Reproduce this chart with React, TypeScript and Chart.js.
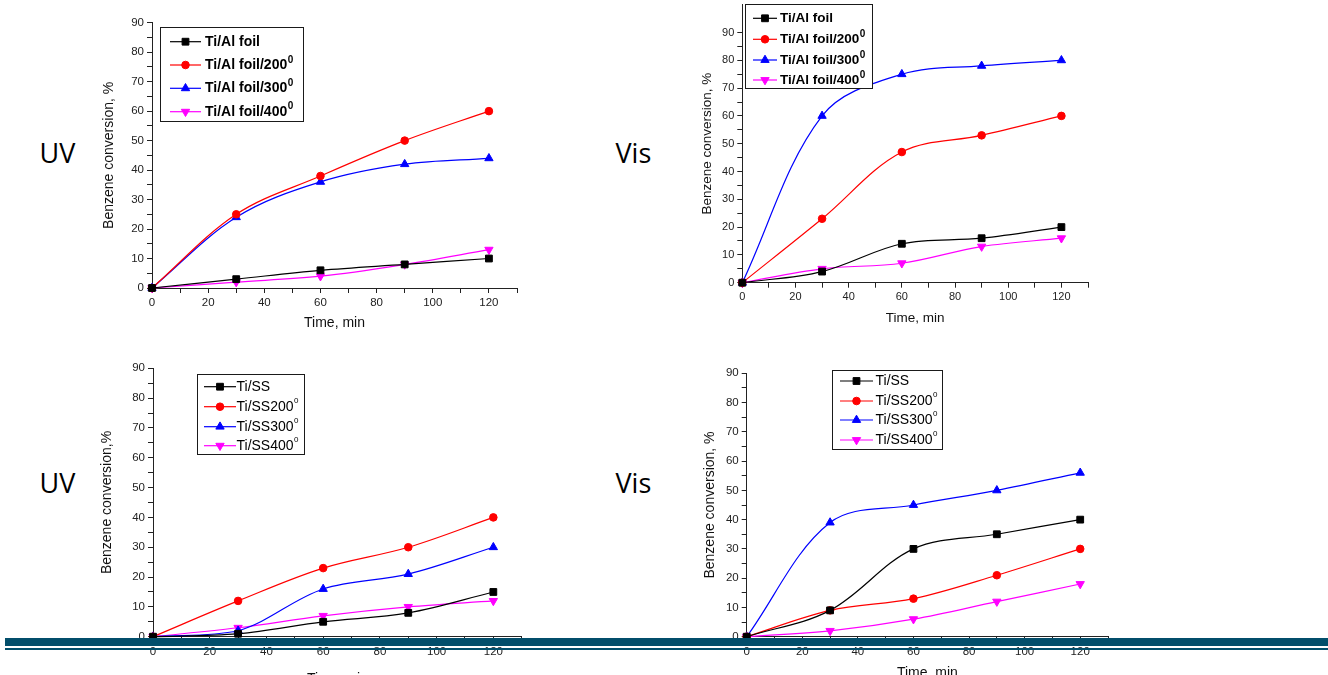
import React, { useEffect, useRef } from 'react';
import { Chart, registerables } from 'chart.js';
Chart.register(...registerables);

// ---------- data ----------
const times = [0, 30, 60, 90, 120];

const alLabels = ['Ti/Al foil', 'Ti/Al foil/200', 'Ti/Al foil/300', 'Ti/Al foil/400'];
const ssLabels = ['Ti/SS', 'Ti/SS200', 'Ti/SS300', 'Ti/SS400'];
const labelSups = ['', '0', '0', '0'];

// UV, Ti/Al foil
const uvAlFoil = [0, 3, 6, 8, 10];
const uvAl200 = [0, 25, 38, 50, 60];
const uvAl300 = [0, 24, 36, 42, 44];
const uvAl400 = [0, 2, 4, 8, 13];
// Vis, Ti/Al foil
const visAlFoil = [0, 4, 14, 16, 20];
const visAl200 = [0, 23, 47, 53, 60];
const visAl300 = [0, 60, 75, 78, 80];
const visAl400 = [0, 5, 7, 13, 16];
// UV, Ti/SS
const uvSS = [0, 1, 5, 8, 15];
const uvSS200 = [0, 12, 23, 30, 40];
const uvSS300 = [0, 2, 16, 21, 30];
const uvSS400 = [0, 3, 7, 10, 12];
// Vis, Ti/SS
const visSS = [0, 9, 30, 35, 40];
const visSS200 = [0, 9, 13, 21, 30];
const visSS300 = [0, 39, 45, 50, 56];
const visSS400 = [0, 2, 6, 12, 18];

const xTickLabels = [0, 20, 40, 60, 80, 100, 120];
const yTickLabels = [0, 10, 20, 30, 40, 50, 60, 70, 80, 90];

const xTitle = 'Time, min';
const yTitleSpace = 'Benzene conversion, %';
const yTitleNoSpace = 'Benzene conversion,%';

// ---------- styles ----------
const seriesColors = ['#000000', '#ff0000', '#0000ff', '#ff00ff'];
const seriesShapes = ['rect', 'circle', 'triangle', 'triangle'];
const seriesRotation = [0, 0, 0, 180];
const seriesRadius = [4.8, 3.8, 4.8, 4.8];
const FONT = '"Liberation Sans", Arial, sans-serif';
const AXIS = '#222222';

type Legend = {
  box: number[]; rows: number[]; sx: number[]; tx: number;
  size: number; bold: boolean; supSize: number; supRaise: number;
};
type Spec = {
  series: number[][]; labels: string[]; yTitle: string; yMax: number;
  area: { l: number; t: number; r: number; b: number };
  yTitleX: number; xTitleY: number; titleSize: number; tickSize: number;
  legend: Legend;
};

const specs: Spec[] = [
  {
    series: [uvAlFoil, uvAl200, uvAl300, uvAl400], labels: alLabels, yTitle: yTitleSpace, yMax: 90,
    area: { l: 152, t: 22.7, r: 517, b: 288 }, yTitleX: 109, xTitleY: 323, titleSize: 14, tickSize: 11.5,
    legend: { box: [160, 27, 143, 94], rows: [41.7, 65, 88.3, 111.7], sx: [170, 201], tx: 205, size: 14, bold: true, supSize: 10, supRaise: 5 },
  },
  {
    series: [visAlFoil, visAl200, visAl300, visAl400], labels: alLabels, yTitle: yTitleSpace, yMax: 100,
    area: { l: 742.3, t: 4.7, r: 1088, b: 282.7 }, yTitleX: 707.7, xTitleY: 318, titleSize: 13.5, tickSize: 11,
    legend: { box: [745, 4, 127, 84], rows: [18.3, 39.3, 60, 80], sx: [753, 777], tx: 780, size: 13.5, bold: true, supSize: 10, supRaise: 5 },
  },
  {
    series: [uvSS, uvSS200, uvSS300, uvSS400], labels: ssLabels, yTitle: yTitleNoSpace, yMax: 90,
    area: { l: 153, t: 368.3, r: 521.7, b: 636.7 }, yTitleX: 107, xTitleY: 679, titleSize: 14, tickSize: 11.5,
    legend: { box: [196.7, 374.3, 107.3, 80], rows: [386.7, 406.7, 426.7, 445.7], sx: [204, 236], tx: 236.5, size: 14, bold: false, supSize: 8, supRaise: 6 },
  },
  {
    series: [visSS, visSS200, visSS300, visSS400], labels: ssLabels, yTitle: yTitleSpace, yMax: 90,
    area: { l: 746.7, t: 373.3, r: 1108, b: 636.7 }, yTitleX: 710.5, xTitleY: 673, titleSize: 14, tickSize: 11.5,
    legend: { box: [832, 369.7, 110, 78.6], rows: [381, 401, 420, 440], sx: [840, 873], tx: 875.5, size: 14, bold: false, supSize: 8, supRaise: 6 },
  },
];

function geom(s: Spec) {
  const half = (s.titleSize * 1.2) / 2;
  const L = Math.floor(s.yTitleX - half - 6);
  const T = Math.floor(s.area.t - 14);
  const R = Math.ceil(s.area.r + 24);
  const B = Math.ceil(s.xTitleY + half + 8);
  return {
    L, T, W: R - L, H: B - T,
    pad: { left: s.yTitleX - half - L, top: s.area.t - T, right: R - s.area.r, bottom: B - (s.xTitleY + half) },
    yWidth: s.area.l - (s.yTitleX - half),
    xHeight: s.xTitleY + half - s.area.b,
  };
}

function drawMarker(ctx: CanvasRenderingContext2D, shape: string, rot: number, x: number, y: number, r: number, color: string) {
  ctx.save();
  ctx.fillStyle = color;
  ctx.strokeStyle = color;
  ctx.lineWidth = 1;
  ctx.beginPath();
  if (shape === 'rect') {
    const s = r * Math.SQRT1_2;
    ctx.rect(x - s, y - s, 2 * s, 2 * s);
  } else if (shape === 'circle') {
    ctx.arc(x, y, r, 0, Math.PI * 2);
  } else {
    let a = (rot * Math.PI) / 180;
    ctx.moveTo(x + Math.sin(a) * r, y - Math.cos(a) * r);
    a += (2 * Math.PI) / 3;
    ctx.lineTo(x + Math.sin(a) * r, y - Math.cos(a) * r);
    a += (2 * Math.PI) / 3;
    ctx.lineTo(x + Math.sin(a) * r, y - Math.cos(a) * r);
    ctx.closePath();
  }
  ctx.fill();
  ctx.stroke();
  ctx.restore();
}

function makeLegendPlugin(lg: Legend, offX: number, offY: number) {
  return {
    id: 'boxLegend',
    afterDatasetsDraw(chart: any) {
      const ctx: CanvasRenderingContext2D = chart.ctx;
      ctx.save();
      const bx = lg.box[0] - offX, by = lg.box[1] - offY;
      ctx.fillStyle = '#ffffff';
      ctx.fillRect(bx, by, lg.box[2], lg.box[3]);
      ctx.strokeStyle = '#1a1a1a';
      ctx.lineWidth = 1;
      ctx.strokeRect(Math.round(bx) + 0.5, Math.round(by) + 0.5, Math.round(lg.box[2]), Math.round(lg.box[3]));
      chart.data.datasets.forEach((ds: any, i: number) => {
        const y = lg.rows[i] - offY;
        const x0 = lg.sx[0] - offX, x1 = lg.sx[1] - offX;
        ctx.strokeStyle = ds.borderColor;
        ctx.lineWidth = ds.borderWidth;
        ctx.beginPath();
        ctx.moveTo(x0, y);
        ctx.lineTo(x1, y);
        ctx.stroke();
        drawMarker(ctx, ds.pointStyle, ds.pointRotation, (x0 + x1) / 2, y, ds.pointRadius, ds.borderColor);
        const w = lg.bold ? 'bold ' : '';
        ctx.fillStyle = '#000000';
        ctx.textAlign = 'left';
        ctx.textBaseline = 'middle';
        ctx.font = `${w}${lg.size}px ${FONT}`;
        const base = ds.baseLabel as string;
        ctx.fillText(base, lg.tx - offX, y);
        const tw = ctx.measureText(base).width;
        if (ds.sup) {
          ctx.font = `${w}${lg.supSize}px ${FONT}`;
          ctx.fillText(ds.sup, lg.tx - offX + tw + 0.5, y - lg.supRaise);
        }
      });
      ctx.restore();
    },
  };
}

function LineChart({ spec }: { spec: Spec }) {
  const ref = useRef<HTMLCanvasElement | null>(null);
  const g = geom(spec);
  useEffect(() => {
    if (!ref.current) return;
    const s = spec;
    const datasets = s.series.map((arr, i) => ({
      label: s.labels[i] + (labelSups[i] ? '⁰' : ''),
      baseLabel: s.labels[i],
      sup: labelSups[i],
      data: times.map((t, k) => ({ x: t, y: arr[k] })),
      borderColor: seriesColors[i],
      backgroundColor: seriesColors[i],
      pointBackgroundColor: seriesColors[i],
      pointBorderColor: seriesColors[i],
      pointBorderWidth: 1,
      pointStyle: seriesShapes[i],
      pointRotation: seriesRotation[i],
      pointRadius: seriesRadius[i],
      pointHoverRadius: seriesRadius[i],
      borderWidth: 1.2,
      tension: 0.35,
      clip: false,
    }));
    const tickFont = { size: s.tickSize, family: FONT };
    const titleFont = { size: s.titleSize, family: FONT, lineHeight: 1.2 };
    const yTop = s.yMax;
    const chart = new Chart(ref.current, {
      type: 'line',
      data: { datasets: datasets as any },
      plugins: [makeLegendPlugin(s.legend, g.L, g.T) as any],
      options: {
        animation: false,
        responsive: false,
        devicePixelRatio: 1,
        layout: { padding: g.pad },
        plugins: { legend: { display: false }, tooltip: { enabled: false }, title: { display: false } },
        scales: {
          x: {
            type: 'linear',
            min: 0,
            max: 130,
            ticks: {
              stepSize: 10,
              autoSkip: false,
              maxRotation: 0,
              padding: 3,
              color: AXIS,
              font: tickFont,
              callback: (v: any) => (xTickLabels.includes(Number(v)) ? String(v) : ''),
            },
            grid: { drawOnChartArea: false, tickLength: 5, color: AXIS, tickColor: AXIS },
            border: { display: true, color: AXIS, width: 1 },
            title: { display: true, text: xTitle, color: '#111', font: titleFont, padding: 0 },
            afterFit: (sc: any) => {
              sc.height = g.xHeight;
              sc.paddingLeft = 0; sc.paddingRight = 0; sc.paddingTop = 0; sc.paddingBottom = 0;
            },
          },
          y: {
            type: 'linear',
            min: 0,
            max: s.yMax,
            ticks: {
              stepSize: 5,
              autoSkip: false,
              padding: 3,
              color: AXIS,
              font: tickFont,
              callback: (v: any) => (yTickLabels.includes(Number(v)) ? String(v) : ''),
            },
            grid: {
              drawOnChartArea: false,
              tickLength: 5,
              color: AXIS,
              tickColor: (c: any) => (c.tick && c.tick.value > 90 ? 'rgba(0,0,0,0)' : AXIS),
            },
            border: { display: true, color: AXIS, width: 1 },
            title: { display: true, text: s.yTitle, color: '#111', font: titleFont, padding: 0 },
            afterFit: (sc: any) => {
              sc.width = g.yWidth;
              sc.paddingLeft = 0; sc.paddingRight = 0; sc.paddingTop = 0; sc.paddingBottom = 0;
            },
          },
        },
      } as any,
    });
    return () => chart.destroy();
  }, []);
  return (
    <canvas
      ref={ref}
      width={g.W}
      height={g.H}
      style={{ position: 'absolute', left: g.L, top: g.T, width: g.W, height: g.H }}
    />
  );
}

const sideLabel: React.CSSProperties = {
  position: 'absolute',
  fontFamily: '"Open Sans", "Noto Sans", sans-serif',
  fontSize: 27,
  lineHeight: '27px',
  color: '#000',
  whiteSpace: 'nowrap',
};

export default function App() {
  return (
    <div style={{ position: 'fixed', left: 0, top: 0, width: 1328, height: 675, overflow: 'hidden', background: '#fff' }}>
      {specs.map((s, i) => (
        <LineChart key={i} spec={s} />
      ))}
      <div style={{ ...sideLabel, left: 39.5, top: 138.7 }}>UV</div>
      <div style={{ ...sideLabel, left: 615.5, top: 138.7 }}>Vis</div>
      <div style={{ ...sideLabel, left: 39.5, top: 468.6 }}>UV</div>
      <div style={{ ...sideLabel, left: 615.5, top: 468.6 }}>Vis</div>
      <div style={{ position: 'absolute', left: 5, top: 638, width: 1323, height: 8, background: '#034e6b' }} />
      <div style={{ position: 'absolute', left: 5, top: 648, width: 1323, height: 2, background: '#034e6b' }} />
    </div>
  );
}
